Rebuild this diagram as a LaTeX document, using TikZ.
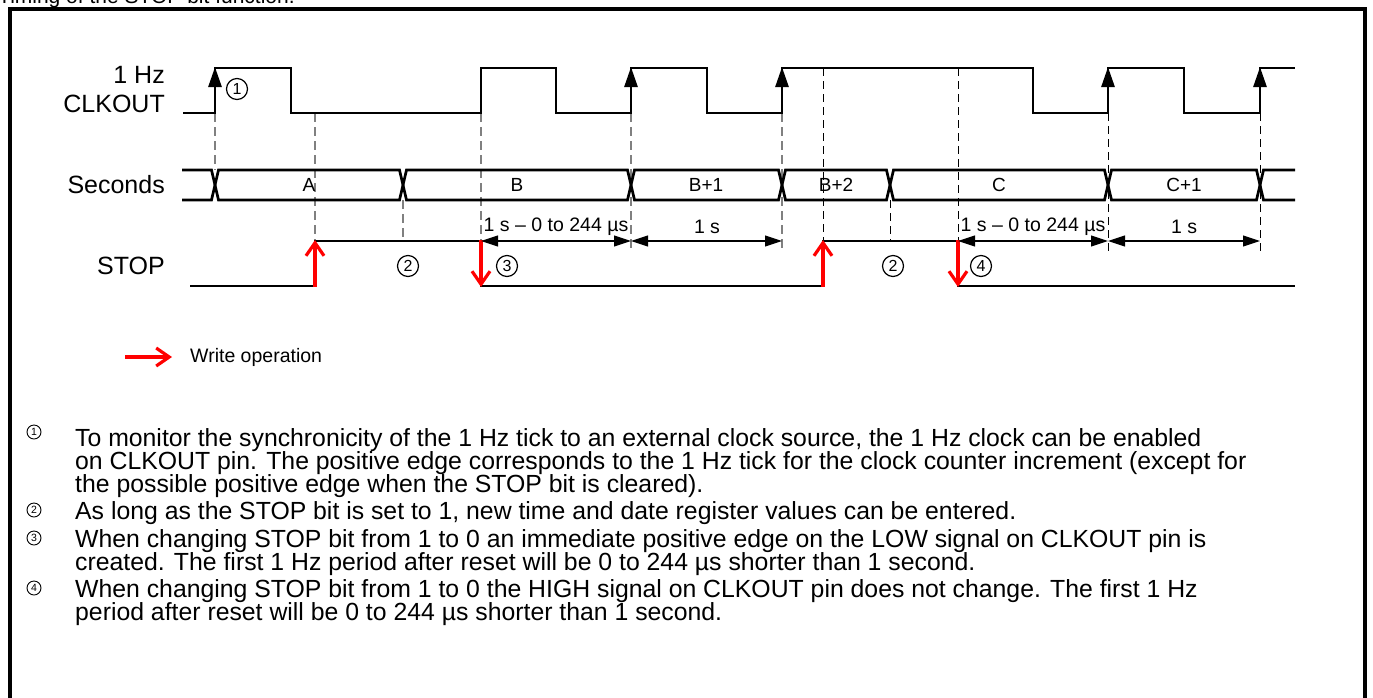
\documentclass[tikz,border=0pt]{standalone}
\usepackage{fontspec}
\setmainfont{Liberation Sans}
\usetikzlibrary{arrows.meta}
\tikzset{
  wave/.style={line width=2.7pt, line join=miter},
  gdash/.style={draw=black!50, line width=1.2pt, dash pattern=on 9pt off 5pt},
  kdash/.style={draw=black, line width=0.9pt, dash pattern=on 8pt off 5pt},
  clkarrow/.style={line width=2.7pt, -{Triangle[length=20pt,width=13pt]}},
  dimarrow/.style={line width=1.1pt, {Triangle[length=17pt,width=11pt]}-{Triangle[length=17pt,width=11pt]}},
  writearrow/.style={draw=red, line width=3.2pt, -{Straight Barb[length=13pt,width=18pt,line width=3.2pt]}},
  siglabel/.style={anchor=east, inner sep=0pt, font=\fontsize{25}{29}\selectfont},
  buslabel/.style={inner sep=0pt, font=\fontsize{19}{22}\selectfont},
  dimlabel/.style={inner sep=0pt, font=\fontsize{19.5}{22}\selectfont},
  circnum/.style={circle, draw, line width=1.2pt, minimum size=21pt, inner sep=0pt, font=\fontsize{16}{18}\selectfont},
  fnnum/.style={circle, draw, line width=0.9pt, minimum size=14pt, inner sep=0pt, font=\fontsize{10.5}{12}\selectfont},
  fntext/.style={anchor=base west, inner sep=0pt, font=\fontsize{24.8}{26}\selectfont},
}
\begin{document}
\begin{tikzpicture}[x=1pt, y=-1pt]
\useasboundingbox (0,0) rectangle (1373,697);
% cut title
\node[anchor=base west, inner sep=0pt, font=\fontsize{21}{24}\selectfont] (title) at (-2,3) {Timing of the STOP bit function.};
% frame
\draw[line width=4pt] (9.5,720) -- (9.5,9) -- (1365.3,9) -- (1365.3,720);

% signal labels
\node[siglabel] (lhz) at (165,75) {1 Hz};
\node[siglabel] (lclk) at (165,104) {CLKOUT};
\node[siglabel] (lsec) at (165,185) {Seconds};
\node[siglabel] (lstop) at (165,266) {STOP};

% dashed guides
\draw[gdash] (215,113) -- (215,170);
\draw[gdash] (315,113) -- (315,241);
\draw[gdash] (403,200) -- (403,241);
\draw[gdash] (481,113) -- (481,241);
\draw[gdash] (631,113) -- (631,252);
\draw[gdash] (782,113) -- (782,252);
\draw[kdash] (823,68) -- (823,241);
\draw[kdash] (890,200) -- (890,241);
\draw[kdash] (958,68) -- (958,241);
\draw[kdash] (1108,113) -- (1108,252);
\draw[kdash] (1260,113) -- (1260,252);

% CLKOUT waveform
\draw[wave] (183,113) -- (215,113) -- (215,68) -- (291,68) -- (291,113) -- (481,113) -- (481,68) -- (556,68) -- (556,113) -- (631,113) -- (631,68) -- (707,68) -- (707,113) -- (782,113) -- (782,68) -- (1033,68) -- (1033,113) -- (1108,113) -- (1108,68) -- (1184,68) -- (1184,113) -- (1260,113) -- (1260,68) -- (1295,68);
\foreach \x in {215,631,782,1108,1260} {
  \draw[clkarrow] (\x,100) -- (\x,67);
}
\node[circnum] (c1) at (237,89) {1};

% Seconds bus
\draw[wave] (182,170) -- (211.5,170) -- (218.5,200) -- (399.5,200) -- (406.5,170) -- (627.5,170) -- (634.5,200) -- (778.5,200) -- (785.5,170) -- (886.5,170) -- (893.5,200) -- (1104.5,200) -- (1111.5,170) -- (1256.5,170) -- (1263.5,200) -- (1295,200);
\draw[wave] (182,200) -- (211.5,200) -- (218.5,170) -- (399.5,170) -- (406.5,200) -- (627.5,200) -- (634.5,170) -- (778.5,170) -- (785.5,200) -- (886.5,200) -- (893.5,170) -- (1104.5,170) -- (1111.5,200) -- (1256.5,200) -- (1263.5,170) -- (1295,170);
\node[buslabel] (sa) at (309,185) {A};
\node[buslabel] (sb) at (517,185) {B};
\node[buslabel] (sb1) at (706,185) {B+1};
\node[buslabel] (sb2) at (836,185) {B+2};
\node[buslabel] (sc) at (999,185) {C};
\node[buslabel] (sc1) at (1184,185) {C+1};

% STOP waveform
\draw[wave] (190,286) -- (315,286) -- (315,241) -- (481,241) -- (481,286) -- (823,286) -- (823,241) -- (958,241) -- (958,286) -- (1295,286);
\draw[writearrow] (315,287) -- (315,240);
\draw[writearrow] (481,240) -- (481,287);
\draw[writearrow] (823,287) -- (823,240);
\draw[writearrow] (958,240) -- (958,287);
\node[circnum] (c2a) at (408,266) {2};
\node[circnum] (c3) at (507,266) {3};
\node[circnum] (c2b) at (893,266) {2};
\node[circnum] (c4) at (981,266) {4};

% dimension arrows
\coordinate (d1) at (481,241);
\coordinate (d2) at (631,241);
\coordinate (d3) at (782,241);
\coordinate (d4) at (958,241);
\coordinate (d5) at (1108,241);
\coordinate (d6) at (1260,241);
\draw[dimarrow] (d1) -- (d2);
\draw[dimarrow] (d2) -- (d3);
\draw[dimarrow] (d4) -- (d5);
\draw[dimarrow] (d5) -- (d6);
\node[dimlabel] (t1) at (556,227) {1 s – 0 to 244 µs};
\node[dimlabel] (t2) at (707,227) {1 s};
\node[dimlabel] (t3) at (1033,227) {1 s – 0 to 244 µs};
\node[dimlabel] (t4) at (1184,227) {1 s};

% legend
\coordinate (la) at (125,357);
\coordinate (lb) at (172,357);
\draw[writearrow] (la) -- (lb);
\node[anchor=west, inner sep=0pt, font=\fontsize{19.5}{22}\selectfont] (lw) at (190,357) {Write operation};

% footnotes
\node[fnnum] (f1) at (34,432) {1};
\node[fntext] (f1a) at (75,446) {To monitor the synchronicity of the 1 Hz tick to an external clock source, the 1 Hz clock can be enabled};
\node[fntext] (f1b) at (75,469) {on CLKOUT pin. The positive edge corresponds to the 1 Hz tick for the clock counter increment (except for};
\node[fntext] (f1c) at (75,492) {the possible positive edge when the STOP bit is cleared).};
\node[fnnum] (f2) at (34,510) {2};
\node[fntext] (f2a) at (75,519) {As long as the STOP bit is set to 1, new time and date register values can be entered.};
\node[fnnum] (f3) at (34,538) {3};
\node[fntext] (f3a) at (75,547) {When changing STOP bit from 1 to 0 an immediate positive edge on the LOW signal on CLKOUT pin is};
\node[fntext] (f3b) at (75,570) {created. The first 1 Hz period after reset will be 0 to 244 µs shorter than 1 second.};
\node[fnnum] (f4) at (34,588) {4};
\node[fntext] (f4a) at (75,597) {When changing STOP bit from 1 to 0 the HIGH signal on CLKOUT pin does not change. The first 1 Hz};
\node[fntext] (f4b) at (75,620) {period after reset will be 0 to 244 µs shorter than 1 second.};
\end{tikzpicture}
\end{document}
